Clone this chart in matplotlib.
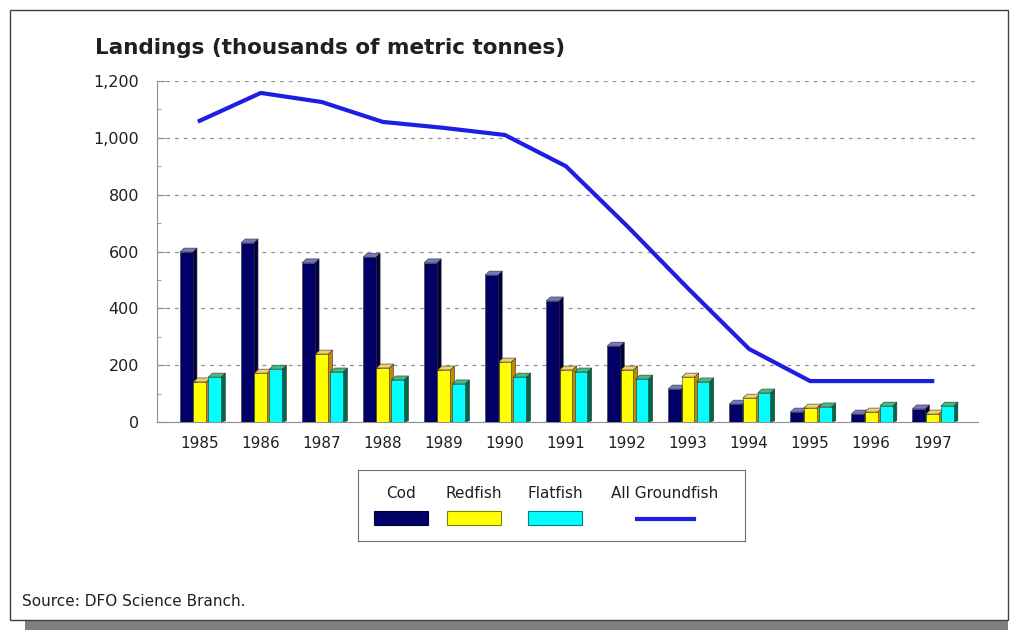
import matplotlib
matplotlib.use("Agg")
import matplotlib.pyplot as plt
from matplotlib.patches import Polygon, Rectangle
from matplotlib.ticker import MultipleLocator, FuncFormatter

plt.rcParams['font.family'] = ['DejaVu Sans']

years = [1985, 1986, 1987, 1988, 1989, 1990, 1991, 1992, 1993, 1994, 1995, 1996, 1997]
cod = [598, 630, 560, 580, 560, 517, 426, 267, 116, 63, 35, 28, 46]
redfish = [141, 172, 239, 190, 183, 211, 183, 183, 158, 84, 49, 35, 28]
flatfish = [158, 186, 176, 148, 134, 158, 176, 151, 141, 102, 53, 56, 56]
groundfish = [1060, 1158, 1126, 1056, 1035, 1010, 900, 690, 470, 257, 144, 144, 144]

series = [
    # name, values, offset, front, side, top
    ("Cod", cod, -0.22, "#000066", "#00003a", "#7878c0"),
    ("Redfish", redfish, 0.0, "#ffff00", "#c08a00", "#f0d070"),
    ("Flatfish", flatfish, 0.245, "#00ffff", "#006848", "#40c080"),
]
line_color = "#1e1ee0"

fig = plt.figure(figsize=(10.1, 6.3), dpi=100)

# frame with drop shadow
fig.patches.append(Rectangle((25 / 1010, 0), 983 / 1010, 12 / 630, transform=fig.transFigure,
                             facecolor="#808080", edgecolor="none", zorder=0))
fig.patches.append(Rectangle((10 / 1010, 10 / 630), 998 / 1010, 610 / 630, transform=fig.transFigure,
                             facecolor="white", edgecolor="#404040", lw=1.0, zorder=1))

ax = fig.add_axes([157 / 1010, 1 - 422 / 630, (978 - 157) / 1010, (422 - 81) / 630])
ax.set_zorder(2)
ax.patch.set_alpha(0)

width = 0.21
dx = 0.07
dy = 14
for name, vals, off, front, side, top in series:
    for yr, v in zip(years, vals):
        x0 = yr + off - width / 2
        x1 = x0 + width
        ax.add_patch(Polygon([(x1, 0), (x1 + dx, dy * 0.3), (x1 + dx, v + dy), (x1, v)],
                             closed=True, facecolor=side, edgecolor="#303030", lw=0.4, zorder=3))
        ax.add_patch(Polygon([(x0, v), (x0 + dx, v + dy), (x1 + dx, v + dy), (x1, v)],
                             closed=True, facecolor=top, edgecolor="#303030", lw=0.4, zorder=3))
        ax.bar(yr + off, v, width=width, color=front, edgecolor="#303030", lw=0.4, zorder=4)

ax.plot(years, groundfish, color=line_color, lw=3, solid_joinstyle="round", zorder=5)

ax.set_xlim(1984.3, 1997.75)
ax.set_ylim(0, 1200)
ax.set_xticks(years)
ax.set_xticklabels([str(y) for y in years])
ax.yaxis.set_major_locator(MultipleLocator(200))
ax.yaxis.set_minor_locator(MultipleLocator(100))
ax.yaxis.set_major_formatter(FuncFormatter(lambda v, p: f"{int(v):,}"))
ax.tick_params(axis="x", length=0, labelsize=11, pad=10, colors="#202020")
ax.tick_params(axis="y", which="major", length=6, direction="in", labelsize=11.5, colors="#909090",
               labelcolor="#202020", pad=13)
ax.tick_params(axis="y", which="minor", length=3, direction="in", colors="#909090")
ax.grid(axis="y", linestyle=(0, (3, 4)), color="#909090", lw=0.9)
ax.set_axisbelow(True)
for s in ("top", "right"):
    ax.spines[s].set_visible(False)
ax.spines["left"].set_color("#909090")
ax.spines["bottom"].set_color("#909090")

fig.text(95 / 1010, 1 - 48 / 630, "Landings (thousands of metric tonnes)", fontsize=15.5,
         fontweight="bold", color="#202020", va="center", ha="left")
fig.text(22 / 1010, 1 - 602 / 630, "Source: DFO Science Branch.", fontsize=11,
         color="#202020", va="center", ha="left")

# legend: labels above the swatches
lg = fig.add_axes([358 / 1010, 1 - 541 / 630, (745 - 358) / 1010, (541 - 470) / 630])
lg.set_zorder(3)
lg.set_xlim(358, 745)
lg.set_ylim(541, 470)
lg.set_xticks([])
lg.set_yticks([])
for s in lg.spines.values():
    s.set_color("#707070")
entries = [("Cod", 401, "#000066", "#000033"), ("Redfish", 474, "#ffff00", "#808000"),
           ("Flatfish", 555, "#00ffff", "#008080")]
for label, cx, fc, ec in entries:
    lg.text(cx, 494, label, ha="center", va="center", fontsize=11, color="#202020")
    lg.add_patch(Rectangle((cx - 27, 511), 54, 14, facecolor=fc, edgecolor=ec, lw=0.8))
lg.text(665, 494, "All Groundfish", ha="center", va="center", fontsize=11, color="#202020")
lg.plot([637, 694], [519, 519], color=line_color, lw=3)

fig.savefig("out.png", dpi=100)
